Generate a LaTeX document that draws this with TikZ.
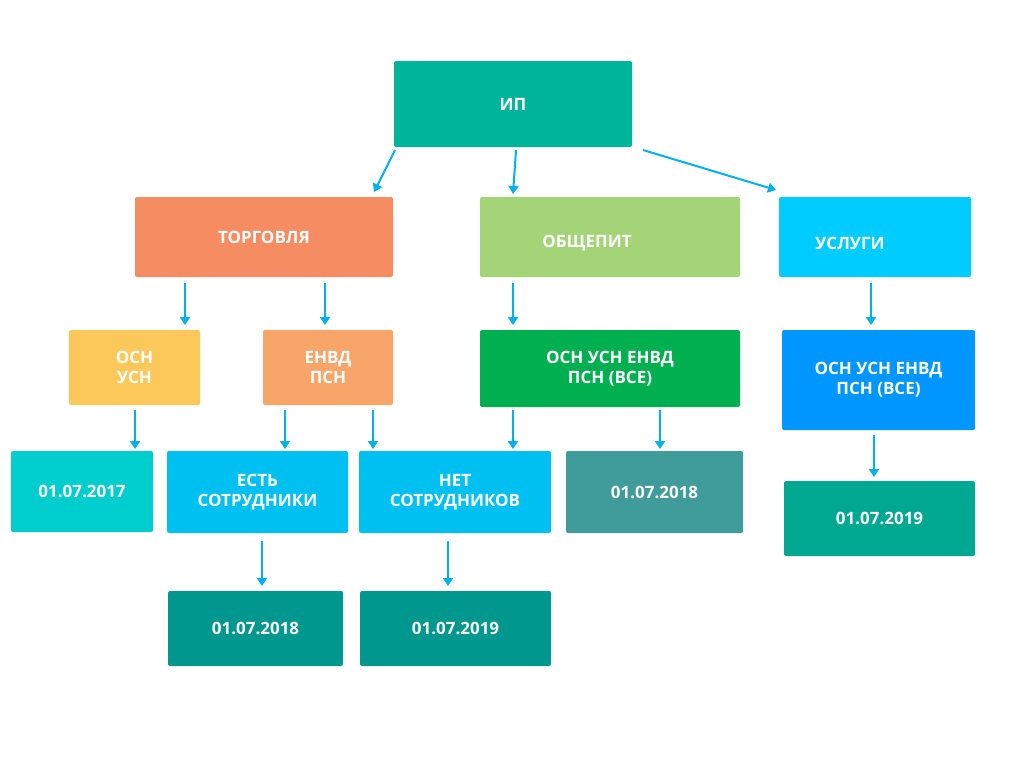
\documentclass[tikz,border=0pt]{standalone}
\usepackage{fontspec}
\setmainfont{Open Sans}
\usetikzlibrary{arrows.meta}
\definecolor{ipc}{RGB}{0,179,155}
\definecolor{torg}{RGB}{246,140,98}
\definecolor{obsh}{RGB}{165,212,120}
\definecolor{usl}{RGB}{0,204,255}
\definecolor{yel}{RGB}{252,200,90}
\definecolor{ora}{RGB}{247,165,105}
\definecolor{grn}{RGB}{0,176,80}
\definecolor{blu}{RGB}{0,150,255}
\definecolor{tq}{RGB}{0,206,206}
\definecolor{sky}{RGB}{0,192,242}
\definecolor{gtl}{RGB}{64,155,155}
\definecolor{dtl}{RGB}{0,168,145}
\definecolor{dtl2}{RGB}{0,152,142}
\definecolor{arr}{RGB}{0,176,240}
\begin{document}
\begin{tikzpicture}[x=1pt,y=-1pt,
  bx/.style={rounded corners=2pt,text=white,font=\bfseries\fontsize{17}{20}\selectfont,align=center},
  ar/.style={arr,line width=2pt,-{Triangle[length=8pt,width=10pt]}}]
\useasboundingbox (0,0) rectangle (1024,768);
\newcommand\bb[7]{\fill[#6,rounded corners=2pt] (#2,#3) rectangle (#4,#5);
  \node[bx] (#1) at ({(#2+#4)/2},{(#3+#5)/2}) {#7};}
\bb{ip}{394}{61}{632}{147}{ipc}{ИП}
\bb{tr}{135}{197}{393}{277}{torg}{ТОРГОВЛЯ}
\fill[obsh,rounded corners=2pt] (480,197) rectangle (740,277);
\node[bx] (ob) at (587,243) {ОБЩЕПИТ};
\fill[usl,rounded corners=2pt] (779,197) rectangle (971,277);
\node[bx] (us) at (850,243) {УСЛУГИ};
\bb{a1}{69}{330}{200}{405}{yel}{ОСН\\УСН}
\bb{a2}{263}{330}{393}{405}{ora}{ЕНВД\\ПСН}
\bb{a3}{480}{330}{740}{407}{grn}{ОСН УСН ЕНВД\\ПСН (ВСЕ)}
\bb{a4}{782}{330}{975}{430}{blu}{ОСН УСН ЕНВД\\ПСН (ВСЕ)}
\bb{b1}{11}{451}{153}{532}{tq}{01.07.2017}
\bb{b2}{167}{451}{348}{533}{sky}{ЕСТЬ\\СОТРУДНИКИ}
\bb{b3}{359}{451}{551}{533}{sky}{НЕТ\\СОТРУДНИКОВ}
\bb{b4}{566}{451}{743}{533}{gtl}{01.07.2018}
\bb{b5}{784}{481}{975}{556}{dtl}{01.07.2019}
\bb{c1}{168}{591}{343}{666}{dtl2}{01.07.2018}
\bb{c2}{360}{591}{551}{666}{dtl2}{01.07.2019}
\foreach \n/\x/\y/\u/\v in {p1/395/150/374/192, p2/516/150/513/194, p3/643/150/776/190,
  p4/185/283/185/325, p5/325/283/325/325, p6/513/283/513/325, p7/871/283/871/325,
  p8/135/410/135/449, p9/285/410/285/449, p10/373/410/373/449, p11/513/410/513/449,
  p12/660/410/660/449, p13/874/435/874/477, p14/262/541/262/586, p15/448/541/448/586}
  {\coordinate (\n s) at (\x,\y); \coordinate (\n e) at (\u,\v); \draw[ar] (\n s) -- (\n e);}
\end{tikzpicture}
\end{document}
